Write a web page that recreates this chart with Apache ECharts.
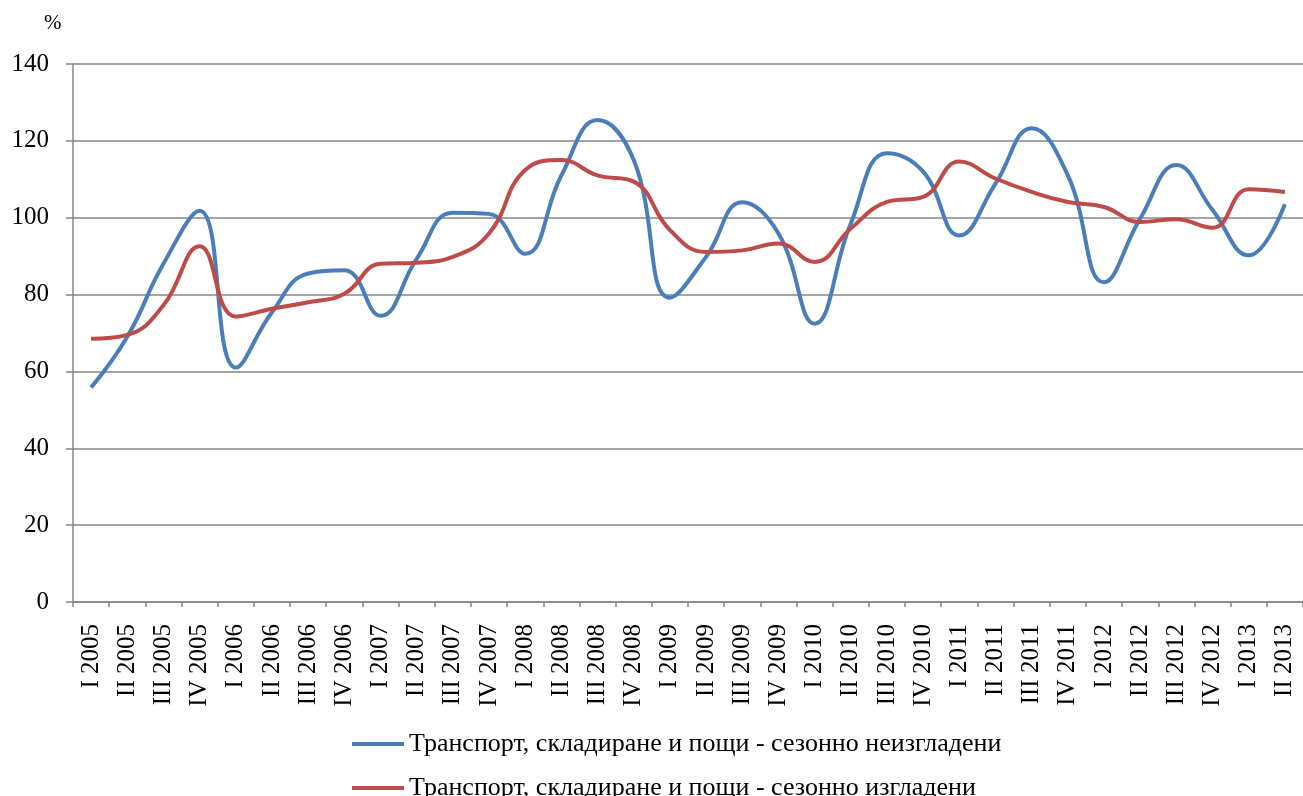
<!DOCTYPE html>
<html>
<head>
<meta charset="utf-8">
<script src="https://cdn.jsdelivr.net/npm/echarts@6/dist/echarts.min.js"></script>
<style>
html,body{margin:0;padding:0;background:#fff;}
#chart{width:1303px;height:796px;}
</style>
</head>
<body>
<div id="chart"></div>
<script>
const categories = [
  "I 2005","II 2005","III 2005","IV 2005",
  "I 2006","II 2006","III 2006","IV 2006",
  "I 2007","II 2007","III 2007","IV 2007",
  "I 2008","II 2008","III 2008","IV 2008",
  "I 2009","II 2009","III 2009","IV 2009",
  "I 2010","II 2010","III 2010","IV 2010",
  "I 2011","II 2011","III 2011","IV 2011",
  "I 2012","II 2012","III 2012","IV 2012",
  "I 2013","II 2013"
];
const seriesNames = [
  "Транспорт, складиране и пощи - сезонно неизгладени",
  "Транспорт, складиране и пощи - сезонно изгладени"
];
const unadjusted = [
  55.8, 69, 88, 101.8,
  61, 75.4, 85.5, 86.3,
  74.5, 89.3, 101.3, 101,
  90.6, 111, 125.4, 115,
  79.2, 89.8, 104, 95.9,
  72.4, 98.5, 116.8, 112,
  95.4, 108.9, 123.3, 111,
  83.2, 99.8, 113.7, 102,
  90.2, 103.5
];
const adjusted = [
  68.5, 69.5, 77.2, 92.6,
  74.3, 76.3, 78, 80.2,
  88, 88.3, 89.8, 95.9,
  112.4, 115, 111, 109.4,
  96.8, 91.1, 91.5, 93.3,
  88.5, 97.2, 104.1, 105.4,
  114.6, 110.2, 106.7, 104.1,
  102.8, 98.9, 99.6, 97.4,
  107.4, 106.7
];
const yTicks = {min: 0, max: 140, interval: 20};

const font = '"Liberation Serif", "Times New Roman", serif';
const legendCommon = {
  orient: 'vertical',
  left: 347,
  itemWidth: 52, itemHeight: 4,
  icon: 'rect',
  textStyle: {fontFamily: font, fontSize: 26, color: '#000'}
};
const chart = echarts.init(document.getElementById('chart'), null, {renderer: 'canvas'});
chart.setOption({
  animation: false,
  backgroundColor: '#fff',
  textStyle: {fontFamily: font, color: '#000'},
  grid: {left: 73, top: 64, width: 1233, bottom: 194, containLabel: false},
  graphic: [{
    type: 'text', left: 44, top: 13,
    style: {text: '%', fontFamily: font, fontSize: 21, fill: '#000'}
  }],
  legend: [
    Object.assign({}, legendCommon, {top: 726, data: [seriesNames[0]]}),
    Object.assign({}, legendCommon, {top: 770, data: [seriesNames[1]]})
  ],
  xAxis: {
    type: 'category',
    data: categories,
    boundaryGap: true,
    axisLine: {lineStyle: {color: '#868686', width: 1.5}},
    axisTick: {show: true, length: 5, alignWithLabel: false, lineStyle: {color: '#868686', width: 1.5}},
    axisLabel: {rotate: 90, interval: 0, margin: 22, fontFamily: font, fontSize: 25, color: '#000'},
    splitLine: {show: false}
  },
  yAxis: {
    type: 'value',
    min: yTicks.min, max: yTicks.max, interval: yTicks.interval,
    axisLine: {show: true, lineStyle: {color: '#868686', width: 1.5}},
    axisTick: {show: true, length: 7, lineStyle: {color: '#868686', width: 1.5}},
    axisLabel: {margin: 24, fontFamily: font, fontSize: 25, color: '#000'},
    splitLine: {show: true, lineStyle: {color: '#868686', width: 1.5}}
  },
  series: [
    {
      name: seriesNames[0], type: 'line', data: unadjusted,
      smooth: 0.45, symbol: 'none',
      lineStyle: {color: '#4A7EBB', width: 4},
      itemStyle: {color: '#4A7EBB'}
    },
    {
      name: seriesNames[1], type: 'line', data: adjusted,
      smooth: 0.45, symbol: 'none',
      lineStyle: {color: '#BE4B48', width: 4},
      itemStyle: {color: '#BE4B48'}
    }
  ]
});
</script>
</body>
</html>
